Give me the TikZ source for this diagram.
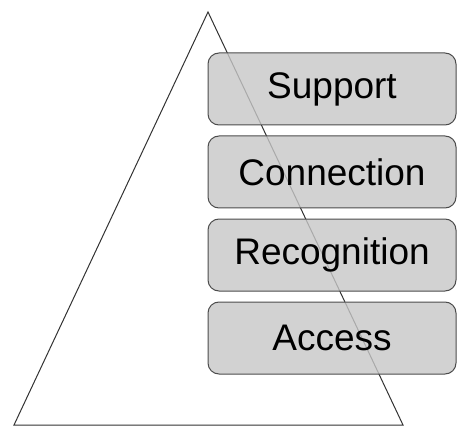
\documentclass[tikz,border=0pt]{standalone}
\usepackage{fontspec}
\setmainfont{Liberation Sans}
\begin{document}
\begin{tikzpicture}[x=1pt,y=-1pt,
  level/.style={draw=black!70, line width=1pt, fill=black!22, fill opacity=0.8, text opacity=1, rounded corners=11pt, minimum width=248pt, minimum height=72pt, inner sep=0pt, font=\fontsize{37}{40}\selectfont},
  tri/.style={draw=black!80, line width=1pt, line join=miter}]
\useasboundingbox (0,0) rectangle (457,430);
\coordinate (apex) at (208,12);
\coordinate (bl) at (14,425);
\coordinate (br) at (403,425);
\draw[tri] (apex) -- (bl) -- (br) -- cycle;
\node[level] (support) at (332,89) {Support};
\node[level] (connection) at (332,172) {Connection};
\node[level] (recognition) at (332,255) {Recognition};
\node[level] (access) at (332,338) {Access};
\end{tikzpicture}
\end{document}
